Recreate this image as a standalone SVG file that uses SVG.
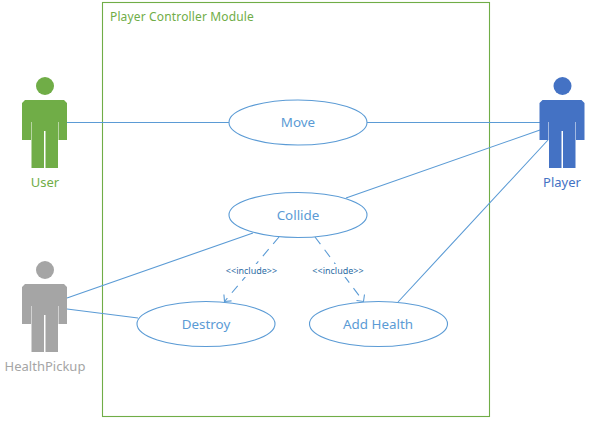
<svg xmlns="http://www.w3.org/2000/svg" width="589" height="422" viewBox="0 0 589 422">
<style>
text{font-family:"Noto Sans","Open Sans","Liberation Sans",sans-serif;text-anchor:middle}
.uc ellipse{fill:#fff;stroke:#5b9bd5;stroke-width:1.1}
.uc text{font-size:13.4px;fill:#5b9bd5}
.c{fill:none;stroke:#5b9bd5;stroke-width:1.1}
.d{stroke-dasharray:9 7}
.inc{font-size:9px;fill:#2e6da4}
.lab{font-size:13px}
</style>
<defs>
<marker id="open" viewBox="0 0 12 14" refX="11" refY="7" markerWidth="12" markerHeight="14" orient="auto" markerUnits="userSpaceOnUse"><path d="M6 2L11 7L6 12" fill="none" stroke="#5b9bd5" stroke-width="1.100"/></marker>
<g id="actor"><circle cx="45" cy="86" r="9"/><path d="M25 100H64L67 103V140H58.500V122H58V168H45.500V131H44V168H31.500V122H31V140H22V103Z"/></g>
</defs>
<rect id="boundary" x="102.500" y="2.500" width="387" height="414" fill="#fff" stroke="#70ad47" stroke-width="1.100"/>
<text x="182" y="21" style="font-size:12px;fill:#70ad47;letter-spacing:.15px">Player Controller Module</text>
<g id="connectors">
<path class="c" d="M67 122.500H229M367 122.500H540M346 198L540 130M398 302L548 140M67 298L253 233M67 309L138 318"/>
<path class="c d" d="M279 237L224.500 301.500" marker-end="url(#open)"/>
<path class="c d" d="M315 237L363.500 301.500" marker-end="url(#open)"/>
</g>
<rect x="226" y="264" width="52" height="13" fill="#fff"/>
<rect x="312" y="264" width="52" height="13" fill="#fff"/>
<text class="inc" x="251.500" y="273.500">&lt;&lt;include&gt;&gt;</text>
<text class="inc" x="338" y="273.500">&lt;&lt;include&gt;&gt;</text>
<g id="user"><use href="#actor" fill="#70ad47"/><text class="lab" x="45" y="187" fill="#70ad47">User</text></g>
<g id="player"><use href="#actor" x="517.500" fill="#4472c4"/><text class="lab" x="562" y="187" fill="#4472c4">Player</text></g>
<g id="healthpickup"><use href="#actor" y="184" fill="#a5a5a5"/><text class="lab" x="45" y="371" fill="#a5a5a5">HealthPickup</text></g>
<g id="move" class="uc"><ellipse cx="298" cy="122.500" rx="69" ry="22.500"/><text x="298" y="127">Move</text></g>
<g id="collide" class="uc"><ellipse cx="298" cy="215" rx="69" ry="22.500"/><text x="298" y="220">Collide</text></g>
<g id="destroy" class="uc"><ellipse cx="206" cy="324" rx="69" ry="22.500"/><text x="206" y="329">Destroy</text></g>
<g id="addhealth" class="uc"><ellipse cx="378.500" cy="324" rx="69" ry="22.500"/><text x="378" y="329">Add Health</text></g>
</svg>
